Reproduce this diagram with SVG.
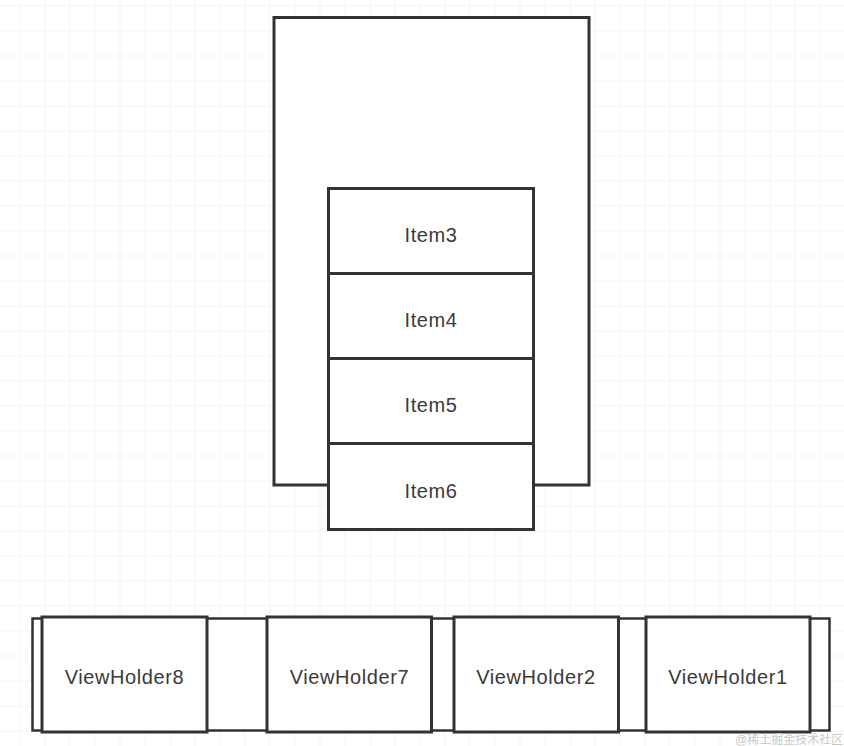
<svg xmlns="http://www.w3.org/2000/svg" width="844" height="746" viewBox="0 0 844 746">
  <defs>
    <pattern id="grid" x="19.5" y="5.5" width="25" height="25" patternUnits="userSpaceOnUse">
      <path d="M0 0 H25 M0 0 V25" fill="none" stroke="#ebebeb" stroke-width="1.2"/>
    </pattern>
    <style>
      .box { fill: #ffffff; stroke: #333333; stroke-width: 3; }
      .strip { fill: #ffffff; stroke: #333333; stroke-width: 2.5; }
      .lbl { font-family: "Liberation Sans", Arial, sans-serif; font-size: 20px; fill: #3a3a3a; text-anchor: middle; letter-spacing: 0.6px; }
      .wm { font-family: "Liberation Sans", "Noto Sans CJK SC", sans-serif; font-size: 12px; fill: #c8c8c8; }
    </style>
  </defs>
  <rect width="844" height="746" fill="#ffffff"/>
  <rect width="844" height="746" fill="url(#grid)"/>

  <g id="recyclerview">
    <rect class="box" x="274" y="17.5" width="315" height="467.5"/>
  </g>

  <g id="items">
    <g id="item3">
      <rect class="box" x="328.5" y="188.5" width="205" height="85"/>
      <text class="lbl" x="431" y="242">Item3</text>
    </g>
    <g id="item4">
      <rect class="box" x="328.5" y="273.5" width="205" height="85"/>
      <text class="lbl" x="431" y="327">Item4</text>
    </g>
    <g id="item5">
      <rect class="box" x="328.5" y="358.5" width="205" height="85"/>
      <text class="lbl" x="431" y="412">Item5</text>
    </g>
    <g id="item6">
      <rect class="box" x="328.5" y="443.5" width="205" height="86"/>
      <text class="lbl" x="431" y="498">Item6</text>
    </g>
  </g>

  <g id="cache">
    <rect class="strip" x="32.5" y="618.5" width="797" height="112"/>
  </g>

  <g id="viewholders">
    <g id="vh8">
      <rect class="box" x="42" y="617" width="165" height="115"/>
      <text class="lbl" x="124.5" y="684">ViewHolder8</text>
    </g>
    <g id="vh7">
      <rect class="box" x="267" y="617" width="164.5" height="115"/>
      <text class="lbl" x="349.5" y="684">ViewHolder7</text>
    </g>
    <g id="vh2">
      <rect class="box" x="454" y="617" width="164.5" height="115"/>
      <text class="lbl" x="536" y="684">ViewHolder2</text>
    </g>
    <g id="vh1">
      <rect class="box" x="646" y="617" width="164" height="115"/>
      <text class="lbl" x="728" y="684">ViewHolder1</text>
    </g>
  </g>

  <g id="connectors"></g>

  <text class="wm" x="735" y="744">@稀土掘金技术社区</text>
</svg>
